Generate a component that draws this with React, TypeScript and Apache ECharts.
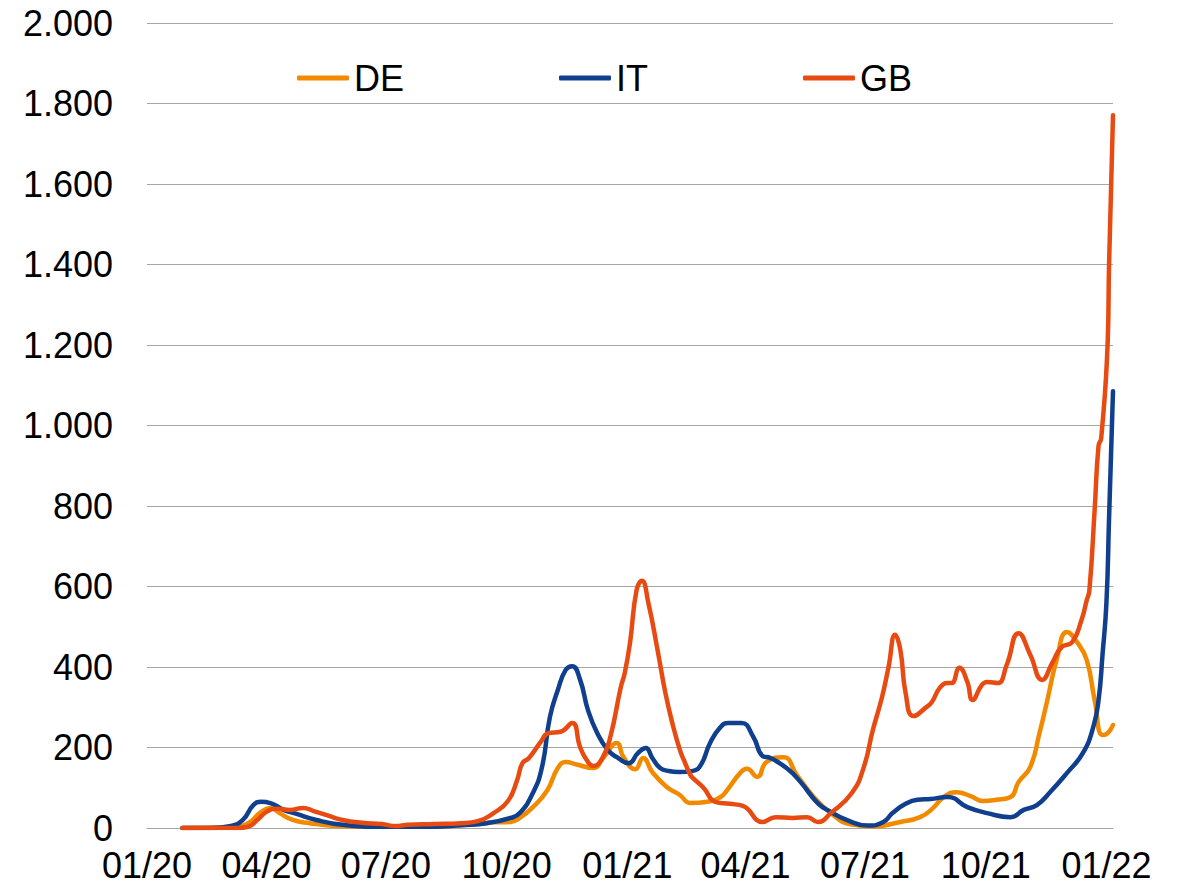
import React, { useEffect, useRef } from "react";
import * as echarts from "echarts";

const startDate = "2020-01-01";
const endDate = "2022-01-06";

const tickDates = ["2020-01-01", "2020-04-01", "2020-07-01", "2020-10-01", "2021-01-01", "2021-04-01", "2021-07-01", "2021-10-01", "2022-01-01"];
const tickLabels = ["01/20", "04/20", "07/20", "10/20", "01/21", "04/21", "07/21", "10/21", "01/22"];

const seriesNames = ["DE", "IT", "GB"];
const seriesColors = ["#F28A00", "#103F8E", "#E84B12"];

const deData: [string, number][] = [
  ["2020-01-28", 0], ["2020-03-05", 2], ["2020-03-18", 12], ["2020-03-28", 40], ["2020-04-04", 50],
  ["2020-04-11", 37], ["2020-04-21", 20], ["2020-05-04", 12], ["2020-05-24", 5], ["2020-06-18", 3],
  ["2020-08-07", 3], ["2020-08-27", 7], ["2020-09-09", 10], ["2020-09-21", 14], ["2020-10-04", 15],
  ["2020-10-11", 25], ["2020-10-21", 52], ["2020-11-01", 94], ["2020-11-09", 149], ["2020-11-15", 164],
  ["2020-11-24", 157], ["2020-12-06", 149], ["2020-12-14", 176], ["2020-12-24", 211], ["2020-12-29", 176],
  ["2021-01-07", 146], ["2021-01-13", 174], ["2021-01-20", 139], ["2021-01-31", 102], ["2021-02-10", 82],
  ["2021-02-18", 62], ["2021-03-03", 65], ["2021-03-13", 77], ["2021-03-18", 94], ["2021-03-28", 137],
  ["2021-04-02", 147], ["2021-04-10", 127], ["2021-04-17", 164], ["2021-04-30", 176], ["2021-05-10", 132],
  ["2021-05-23", 77], ["2021-06-05", 37], ["2021-06-20", 9], ["2021-07-07", 4], ["2021-07-28", 15],
  ["2021-08-12", 27], ["2021-08-22", 50], ["2021-08-30", 77], ["2021-09-09", 89], ["2021-09-19", 80],
  ["2021-09-29", 67], ["2021-10-09", 70], ["2021-10-20", 77], ["2021-10-26", 114], ["2021-11-04", 152],
  ["2021-11-11", 236], ["2021-11-17", 318], ["2021-11-24", 417], ["2021-12-02", 487], ["2021-12-10", 460],
  ["2021-12-17", 417], ["2021-12-23", 318], ["2021-12-29", 231], ["2022-01-02", 236], ["2022-01-06", 256],
];

const itData: [string, number][] = [
  ["2020-01-28", 0], ["2020-02-19", 0], ["2020-03-05", 5], ["2020-03-14", 20], ["2020-03-22", 57],
  ["2020-03-28", 65], ["2020-04-04", 62], ["2020-04-14", 45], ["2020-04-24", 35], ["2020-05-09", 20],
  ["2020-05-29", 8], ["2020-06-28", 3], ["2020-08-07", 3], ["2020-08-27", 7], ["2020-09-16", 12],
  ["2020-10-04", 25], ["2020-10-11", 37], ["2020-10-21", 87], ["2020-10-28", 152], ["2020-11-03", 276],
  ["2020-11-09", 343], ["2020-11-15", 393], ["2020-11-20", 402], ["2020-11-26", 368], ["2020-12-02", 293],
  ["2020-12-09", 236], ["2020-12-17", 194], ["2020-12-24", 176], ["2021-01-02", 161], ["2021-01-09", 186],
  ["2021-01-15", 199], ["2021-01-20", 174], ["2021-01-26", 149], ["2021-02-01", 142], ["2021-02-09", 139],
  ["2021-02-20", 142], ["2021-02-26", 157], ["2021-03-05", 211], ["2021-03-13", 251], ["2021-03-19", 261],
  ["2021-03-29", 261], ["2021-04-07", 226], ["2021-04-14", 179], ["2021-04-20", 174], ["2021-05-03", 147],
  ["2021-05-13", 114], ["2021-05-26", 62], ["2021-06-05", 40], ["2021-06-17", 20], ["2021-07-03", 6],
  ["2021-07-15", 15], ["2021-07-22", 37], ["2021-08-01", 60], ["2021-08-10", 70], ["2021-08-20", 72],
  ["2021-09-02", 77], ["2021-09-17", 52], ["2021-10-02", 37], ["2021-10-20", 27], ["2021-10-30", 45],
  ["2021-11-09", 57], ["2021-11-19", 89], ["2021-12-02", 137], ["2021-12-14", 186], ["2021-12-22", 251],
  ["2021-12-26", 318], ["2021-12-29", 430], ["2022-01-01", 560], ["2022-01-03", 770], ["2022-01-06", 1085],
];

const gbData: [string, number][] = [
  ["2020-01-28", 0], ["2020-03-10", 0], ["2020-03-18", 3], ["2020-03-25", 20], ["2020-04-01", 40],
  ["2020-04-09", 48], ["2020-04-19", 45], ["2020-04-29", 50], ["2020-05-07", 42], ["2020-05-17", 32],
  ["2020-05-29", 20], ["2020-06-13", 13], ["2020-06-28", 10], ["2020-07-08", 5], ["2020-07-18", 8],
  ["2020-08-07", 10], ["2020-08-27", 12], ["2020-09-09", 17], ["2020-09-21", 37], ["2020-10-02", 67],
  ["2020-10-09", 119], ["2020-10-13", 161], ["2020-10-18", 174], ["2020-10-27", 214], ["2020-11-02", 236],
  ["2020-11-11", 239], ["2020-11-20", 261], ["2020-11-26", 201], ["2020-12-01", 169], ["2020-12-06", 154],
  ["2020-12-13", 174], ["2020-12-19", 226], ["2020-12-27", 350], ["2020-12-30", 385], ["2021-01-03", 460],
  ["2021-01-08", 591], ["2021-01-12", 614], ["2021-01-17", 559], ["2021-01-24", 442], ["2021-01-30", 335],
  ["2021-02-05", 251], ["2021-02-10", 194], ["2021-02-13", 169], ["2021-02-18", 132], ["2021-02-20", 124],
  ["2021-02-28", 100], ["2021-03-09", 65], ["2021-03-20", 60], ["2021-03-30", 55], ["2021-04-14", 15],
  ["2021-04-24", 27], ["2021-05-07", 25], ["2021-05-18", 27], ["2021-05-26", 15], ["2021-06-05", 37],
  ["2021-06-21", 87], ["2021-06-30", 150], ["2021-07-07", 243], ["2021-07-14", 325], ["2021-07-19", 400],
  ["2021-07-24", 480], ["2021-07-28", 442], ["2021-08-01", 335], ["2021-08-07", 278], ["2021-08-17", 301],
  ["2021-08-21", 313], ["2021-08-27", 348], ["2021-09-02", 360], ["2021-09-05", 360], ["2021-09-11", 398],
  ["2021-09-17", 363], ["2021-09-21", 318], ["2021-09-28", 355], ["2021-10-02", 363], ["2021-10-10", 360],
  ["2021-10-17", 405], ["2021-10-26", 484], ["2021-11-04", 430], ["2021-11-13", 368], ["2021-11-21", 412],
  ["2021-11-28", 450], ["2021-12-06", 462], ["2021-12-13", 517], ["2021-12-17", 566], ["2021-12-19", 590],
  ["2021-12-23", 790], ["2021-12-26", 950], ["2021-12-28", 968], ["2022-01-02", 1212], ["2022-01-03", 1400],
  ["2022-01-06", 1771],
];

const seriesData = [deData, itData, gbData];

const DAY = 86400000;
const dayIndex = (d: string) => Math.round((Date.parse(d) - Date.parse(startDate)) / DAY);
const fmtThousands = (v: number) => String(v).replace(/\B(?=(\d{3})+(?!\d))/g, ".");
const FONT = 'Arial, "Liberation Sans", sans-serif';

export default function App() {
  const ref = useRef<HTMLDivElement>(null);
  useEffect(() => {
    if (!ref.current) return;
    const chart = echarts.init(ref.current, null, { renderer: "svg" });
    const tickValues = tickDates.map(dayIndex);
    chart.setOption({
      animation: false,
      backgroundColor: "#ffffff",
      textStyle: { fontFamily: FONT },
      grid: { left: 147, top: 23, width: 966, height: 805, containLabel: false },
      legend: {
        left: 297,
        top: 60,
        padding: 0,
        itemWidth: 52,
        itemHeight: 5,
        itemGap: 155,
        icon: "roundRect",
        data: seriesNames,
        textStyle: { fontSize: 36, color: "#000", fontFamily: FONT },
      },
      xAxis: {
        type: "value",
        min: 0,
        max: dayIndex(endDate),
        axisLine: { show: true, lineStyle: { color: "#A6A6A6", width: 1 } },
        axisTick: { show: false },
        splitLine: { show: false },
        axisLabel: {
          customValues: tickValues,
          fontSize: 36,
          lineHeight: 30,
          color: "#000",
          fontFamily: FONT,
          margin: 22,
          showMinLabel: true,
          showMaxLabel: true,
          formatter: (v: number) => {
            const i = tickValues.indexOf(Math.round(v));
            return i >= 0 ? tickLabels[i] : "";
          },
        },
      },
      yAxis: {
        type: "value",
        min: 0,
        max: 2000,
        interval: 200,
        axisLine: { show: false },
        axisTick: { show: false },
        splitLine: { lineStyle: { color: "#A6A6A6", width: 1 } },
        axisLabel: {
          fontSize: 36,
          color: "#000",
          fontFamily: FONT,
          margin: 34,
          formatter: (v: number) => fmtThousands(v),
        },
      },
      series: seriesNames.map((name, i) => ({
        name,
        type: "line",
        showSymbol: false,
        symbol: "none",
        smooth: 0.5,
        color: seriesColors[i],
        lineStyle: { width: 4.5, color: seriesColors[i], cap: "round", join: "round" },
        data: seriesData[i].map(([d, v]) => [dayIndex(d), v]),
      })),
    });
    return () => chart.dispose();
  }, []);
  return (
    <div
      ref={ref}
      style={{ position: "absolute", left: 0, top: 0, width: 1185, height: 888 }}
    />
  );
}
